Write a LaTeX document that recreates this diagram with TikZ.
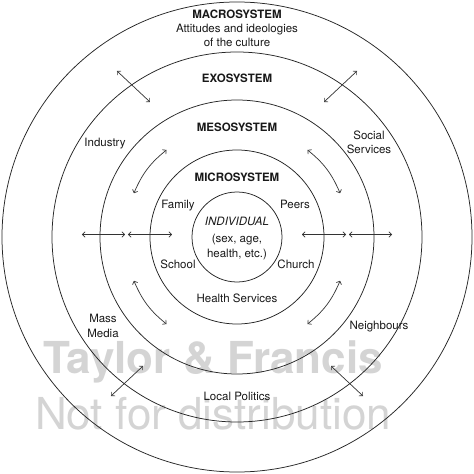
\documentclass[tikz,border=0pt]{standalone}
\usepackage{fontspec}
\setmainfont{TeX Gyre Heros}
\usetikzlibrary{arrows.meta}
\tikzset{
  ring/.style={draw=black!85, line width=0.75pt},
  link/.style={draw=black!80, line width=0.7pt, {Straight Barb[length=2.6pt,width=5.5pt]}-{Straight Barb[length=2.6pt,width=5.5pt]}},
  lbl/.style={inner sep=0pt, anchor=base, font=\fontsize{11.5}{14}\selectfont, text=black!90},
  ttl/.style={lbl, font=\fontsize{11.5}{14}\selectfont\bfseries},
  wm/.style={inner sep=0pt, anchor=base, text=black!17, font=\fontsize{44}{50}\selectfont}
}
\begin{document}
\begin{tikzpicture}[x=1pt,y=1pt]
\useasboundingbox[fill=white] (-237,-237) rectangle (237,237);
% watermark
\node[wm, font=\fontsize{44}{50}\selectfont\bfseries] (wm1) at (-24,-136) {Taylor \& Francis};
\node[wm] (wm2) at (-24,-192) {Not for distribution};
% rings
\node[ring, circle, minimum size=90pt, inner sep=0pt] (ind) at (0,0) {};
\node[ring, circle, minimum size=174pt, inner sep=0pt] (micro) at (0,0) {};
\node[ring, circle, minimum size=274pt, inner sep=0pt] (meso) at (0,0) {};
\node[ring, circle, minimum size=370pt, inner sep=0pt] (exo) at (0,0) {};
\node[ring, circle, minimum size=470pt, inner sep=0pt] (macro) at (0,0) {};
% texts
\node[ttl] (tmacro) at (0,218) {MACROSYSTEM};
\node[lbl] (att1) at (0,204) {Attitudes and ideologies};
\node[lbl] (att2) at (0,190) {of the culture};
\node[ttl] (texo) at (0,154) {EXOSYSTEM};
\node[ttl] (tmeso) at (0,105) {MESOSYSTEM};
\node[lbl] (industry) at (-132,91) {Industry};
\node[lbl] (social) at (132,98) {Social};
\node[lbl] (services) at (132,84) {Services};
\node[ttl] (tmicro) at (0,56) {MICROSYSTEM};
\node[lbl] (family) at (-59,29) {Family};
\node[lbl] (peers) at (58,29) {Peers};
\node[lbl, font=\fontsize{11.5}{14}\selectfont\itshape] (indiv) at (0,12) {INDIVIDUAL};
\node[lbl] (sex) at (0,-5) {(sex, age,};
\node[lbl] (health) at (0,-20) {health, etc.)};
\node[lbl] (school) at (-59,-31) {School};
\node[lbl] (church) at (59,-31) {Church};
\node[lbl] (hserv) at (0,-65) {Health Services};
\node[lbl] (mass) at (-134,-85) {Mass};
\node[lbl] (media) at (-134,-100) {Media};
\node[lbl] (neigh) at (142,-92) {Neighbours};
\node[lbl] (local) at (0,-163) {Local Politics};
% arrow end points
\coordinate (h1a) at (-155,2.5); \coordinate (h1b) at (-112,2.5);
\coordinate (h2a) at (-109,2.5); \coordinate (h2b) at (-65,2.5);
\coordinate (h3a) at (65,2.5);   \coordinate (h3b) at (109,2.5);
\coordinate (h4a) at (112,2.5);  \coordinate (h4b) at (155,2.5);
\coordinate (ula) at (-120,166); \coordinate (ulb) at (-87,135);
\coordinate (ura) at (120,166);  \coordinate (urb) at (87,135);
\coordinate (lla) at (-126,-159); \coordinate (llb) at (-94,-129);
\coordinate (lra) at (126,-159);  \coordinate (lrb) at (94,-129);
\coordinate (cula) at (129:112); \coordinate (culb) at (157:112);
\coordinate (cura) at (51:112);  \coordinate (curb) at (23:112);
\coordinate (clla) at (203:112); \coordinate (cllb) at (231:112);
\coordinate (clra) at (-23:112); \coordinate (clrb) at (-51:112);
% arrows
\draw[link] (h1a) -- (h1b);
\draw[link] (h2a) -- (h2b);
\draw[link] (h3a) -- (h3b);
\draw[link] (h4a) -- (h4b);
\draw[link] (ula) -- (ulb);
\draw[link] (ura) -- (urb);
\draw[link] (lla) -- (llb);
\draw[link] (lra) -- (lrb);
\draw[link] (cula) to[bend right=14] (culb);
\draw[link] (cura) to[bend left=14] (curb);
\draw[link] (clla) to[bend right=14] (cllb);
\draw[link] (clra) to[bend left=14] (clrb);
\end{tikzpicture}
\end{document}
